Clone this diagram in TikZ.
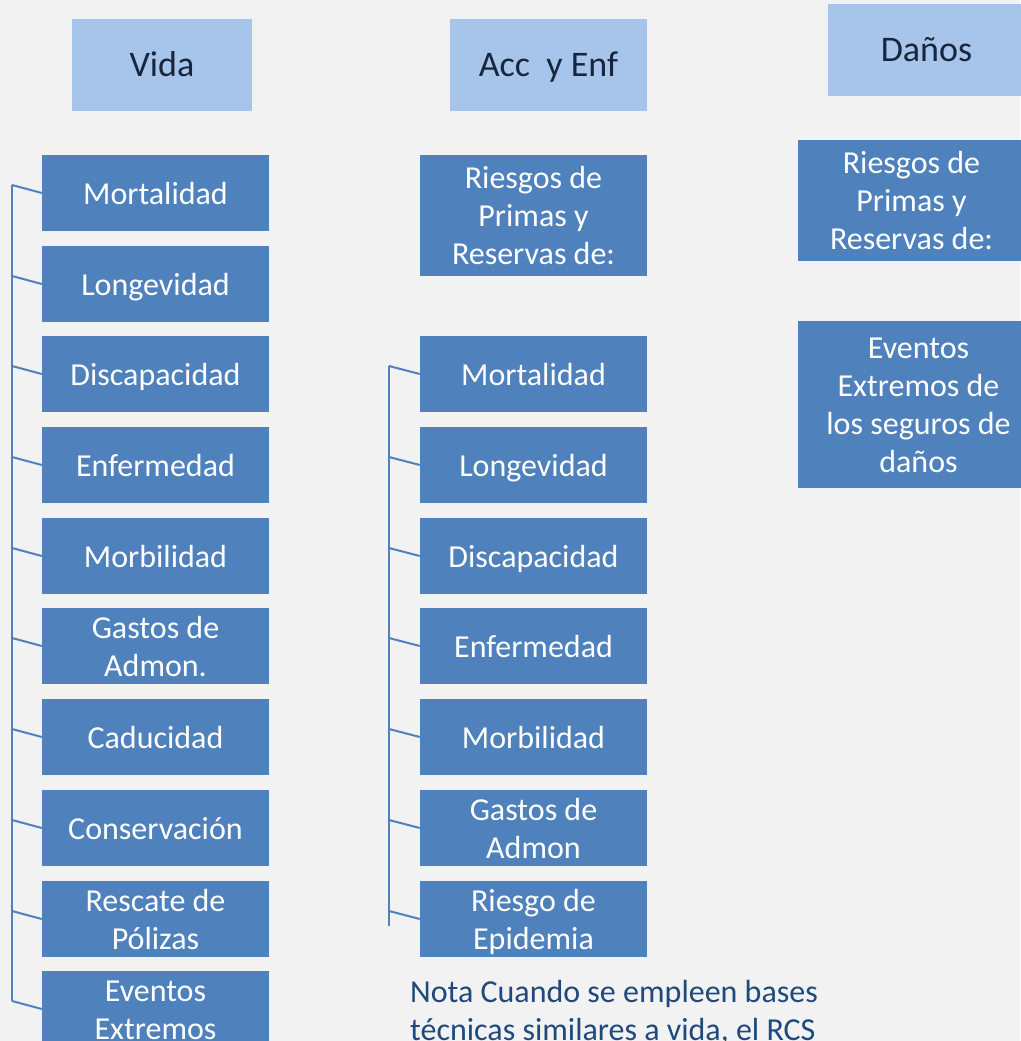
\documentclass[tikz,border=0pt]{standalone}
\usepackage{fontspec}
\setmainfont{Carlito}
\usepackage{xcolor}
\usepackage{array}
\usepackage{tikz}

\definecolor{boxblue}{HTML}{4F81BD}
\definecolor{headblue}{HTML}{A7C5EA}
\definecolor{headtext}{HTML}{17263C}
\definecolor{notetext}{HTML}{1F497D}
\definecolor{bggray}{HTML}{F2F2F2}

\newcommand{\boxstrut}{\rule[-8pt]{0pt}{38pt}}
\newcommand{\headstrut}{\rule[-10pt]{0pt}{44pt}}
\newcommand{\cellstack}[1]{{\renewcommand{\arraystretch}{0}\begin{tabular}{@{}>{\boxstrut}c@{}}#1\end{tabular}}}

\begin{document}
\begin{tikzpicture}[x=1pt, y=-1pt]

		\tikzset{
			riskbox/.style={fill=boxblue, text=white, inner sep=0pt, minimum width=227pt, minimum height=76pt, font=\fontsize{32}{38}\selectfont, execute at begin node=\boxstrut, execute at end node=\boxstrut},
			headbox/.style={fill=headblue, text=headtext, inner sep=0pt, minimum width=197pt, minimum height=92pt, font=\fontsize{36}{43}\selectfont, execute at begin node=\headstrut},
			bracket/.style={draw=boxblue, line width=2pt},
		}

		\fill [bggray] (0,0) rectangle (1020,1041);
		\useasboundingbox (0,0) rectangle (1020,1041);

		% headers
		\node [headbox, minimum width=180pt] (vida) at (162,65) {Vida};
		\node [headbox] (acc) at (548.5,65) {Acc\ \ y Enf};
		\node [headbox] (danos) at (926.5,50) {Daños};

		% vida column
		\node [riskbox] (v1) at (155.5,193) {Mortalidad};
		\node [riskbox] (v2) at (155.5,284) {Longevidad};
		\node [riskbox] (v3) at (155.5,374) {Discapacidad};
		\node [riskbox] (v4) at (155.5,465) {Enfermedad};
		\node [riskbox] (v5) at (155.5,556) {Morbilidad};
		\node [riskbox] (v6) at (155.5,646) {\cellstack{Gastos de\\Admon.}};
		\node [riskbox] (v7) at (155.5,737) {Caducidad};
		\node [riskbox] (v8) at (155.5,828) {Conservación};
		\node [riskbox] (v9) at (155.5,919) {\cellstack{Rescate de\\Pólizas}};
		\node [riskbox] (v10) at (155.5,1009) {\cellstack{Eventos\\Extremos}};

		% acc y enf column
		\node [riskbox, minimum height=121pt] (aprim) at (533.5,215.5) {\cellstack{Riesgos de\\Primas y\\Reservas de:}};
		\node [riskbox] (a1) at (533.5,374) {Mortalidad};
		\node [riskbox] (a2) at (533.5,465) {Longevidad};
		\node [riskbox] (a3) at (533.5,556) {Discapacidad};
		\node [riskbox] (a4) at (533.5,646) {Enfermedad};
		\node [riskbox] (a5) at (533.5,737) {Morbilidad};
		\node [riskbox] (a6) at (533.5,828) {\cellstack{Gastos de\\Admon}};
		\node [riskbox] (a7) at (533.5,919) {\cellstack{Riesgo de\\Epidemia}};

		% danos column
		\node [riskbox, minimum height=121pt] (dprim) at (911.5,200.5) {\cellstack{Riesgos de\\Primas y\\Reservas de:}};
		\node [riskbox, minimum width=241pt, minimum height=167pt] (dext) at (918.5,404.5) {\cellstack{Eventos\\Extremos de\\los seguros de\\daños}};

		% brackets
		\coordinate (kv1) at (12,185);
		\coordinate (kv2) at (12,276);
		\coordinate (kv3) at (12,366);
		\coordinate (kv4) at (12,457);
		\coordinate (kv5) at (12,548);
		\coordinate (kv6) at (12,638);
		\coordinate (kv7) at (12,729);
		\coordinate (kv8) at (12,820);
		\coordinate (kv9) at (12,911);
		\coordinate (kv10) at (12,1001);

		\draw [bracket] (kv1) -- (kv10);
		\draw [bracket] (kv1) -- (v1.west);
		\draw [bracket] (kv2) -- (v2.west);
		\draw [bracket] (kv3) -- (v3.west);
		\draw [bracket] (kv4) -- (v4.west);
		\draw [bracket] (kv5) -- (v5.west);
		\draw [bracket] (kv6) -- (v6.west);
		\draw [bracket] (kv7) -- (v7.west);
		\draw [bracket] (kv8) -- (v8.west);
		\draw [bracket] (kv9) -- (v9.west);
		\draw [bracket] (kv10) -- (v10.west);

		\coordinate (ka1) at (389,366);
		\coordinate (ka2) at (389,457);
		\coordinate (ka3) at (389,548);
		\coordinate (ka4) at (389,638);
		\coordinate (ka5) at (389,729);
		\coordinate (ka6) at (389,820);
		\coordinate (ka7) at (389,911);
		\coordinate (kaend) at (389,926);

		\draw [bracket] (ka1) -- (kaend);
		\draw [bracket] (ka1) -- (a1.west);
		\draw [bracket] (ka2) -- (a2.west);
		\draw [bracket] (ka3) -- (a3.west);
		\draw [bracket] (ka4) -- (a4.west);
		\draw [bracket] (ka5) -- (a5.west);
		\draw [bracket] (ka6) -- (a6.west);
		\draw [bracket] (ka7) -- (a7.west);

		% nota
		\node [anchor=north west, inner sep=0pt, align=left, text=notetext, font=\fontsize{32}{38}\selectfont] (nota) at (410,980) {Nota Cuando se empleen bases\\técnicas similares a vida, el RCS};

\end{tikzpicture}
\end{document}
